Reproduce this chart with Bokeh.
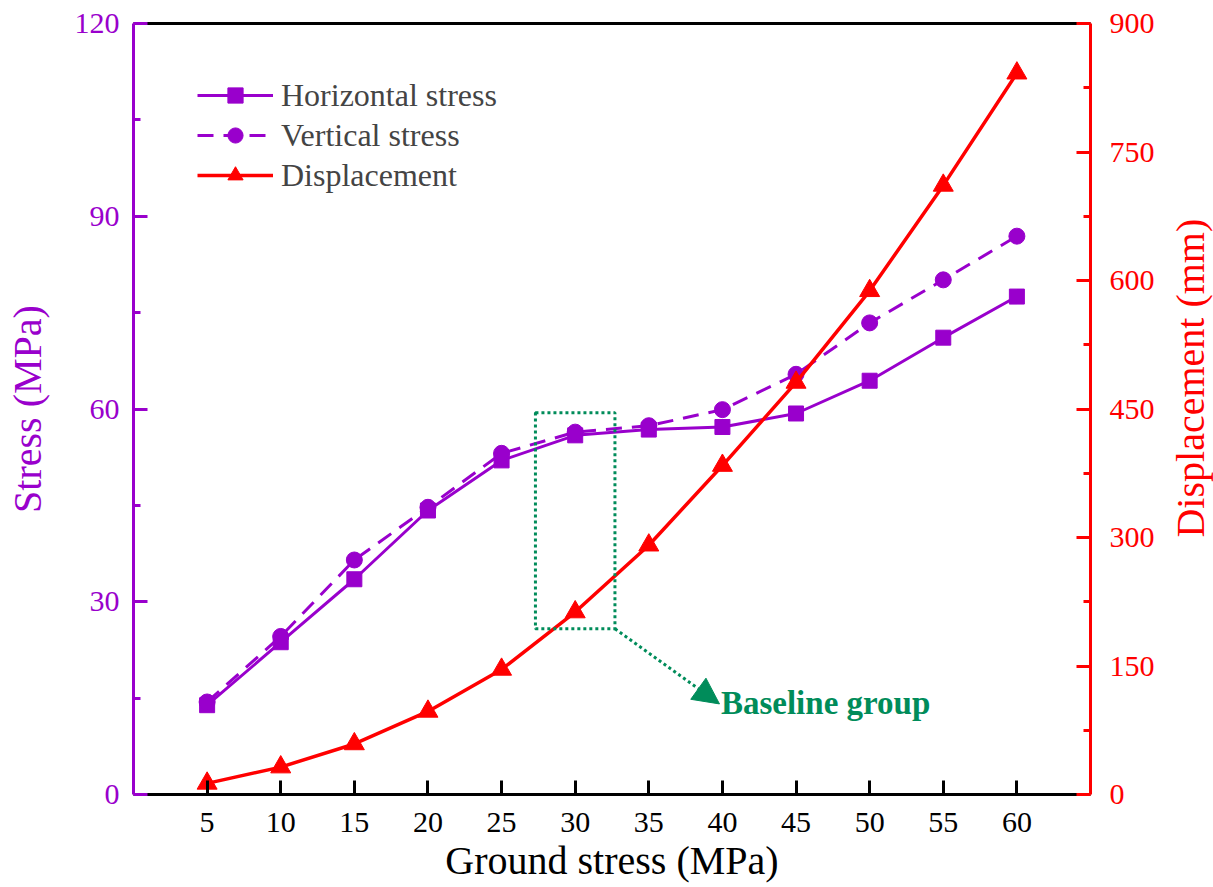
import math
from bokeh.plotting import figure
from bokeh.layouts import row
from bokeh.models import (Range1d, LinearAxis, FixedTicker, Legend, LegendItem,
                          BoxAnnotation, Arrow, NormalHead, Label)
from bokeh.embed import file_html
from bokeh.resources import INLINE

# ---- data ----
ground_stress = [5, 10, 15, 20, 25, 30, 35, 40, 45, 50, 55, 60]
horizontal_stress = [13.9, 23.7, 33.5, 44.2, 52.0, 55.9, 56.8, 57.2, 59.3, 64.4, 71.1, 77.5]
vertical_stress = [14.4, 24.6, 36.5, 44.7, 53.1, 56.4, 57.4, 59.9, 65.4, 73.4, 80.1, 86.9]
displacement = [13, 32, 59, 97, 146, 213, 291, 384, 481, 588, 711, 842]

x_ticks = [5, 10, 15, 20, 25, 30, 35, 40, 45, 50, 55, 60]
left_ticks = [0, 30, 60, 90, 120]
left_minor = [15, 45, 75, 105]
right_ticks = [0, 150, 300, 450, 600, 750, 900]
right_minor = [75, 225, 375, 525, 675, 825]

PURPLE = "#9900CC"
RED = "#FF0000"
GREEN = "#008C5A"
FONT = "Liberation Serif"

MAIN_W = 1165
p = figure(width=MAIN_W, height=887, output_backend="svg", toolbar_location=None,
           x_range=Range1d(0, 65), y_range=Range1d(0, 120),
           min_border_left=133, min_border_right=MAIN_W - 1090, min_border_top=23,
           min_border_bottom=93, x_axis_type=None, y_axis_type=None)
p.extra_y_ranges = {"disp": Range1d(0, 900)}
p.grid.visible = False
p.outline_line_color = None
p.background_fill_color = "white"
p.border_fill_color = "white"

def style_axis(ax, color, ticks, minor, label, title_size="40px"):
    ax.ticker = FixedTicker(ticks=ticks, minor_ticks=minor)
    ax.axis_line_color = color
    ax.axis_line_width = 3
    ax.major_tick_line_color = color
    ax.major_tick_line_width = 3
    ax.minor_tick_line_color = color
    ax.minor_tick_line_width = 3
    ax.major_tick_in = 14
    ax.major_tick_out = 0
    ax.minor_tick_in = 7
    ax.minor_tick_out = 0
    ax.major_label_text_color = color
    ax.major_label_text_font = FONT
    ax.major_label_text_font_size = "30px"
    ax.axis_label = label
    ax.axis_label_text_color = color
    ax.axis_label_text_font = FONT
    ax.axis_label_text_font_size = title_size
    ax.axis_label_text_font_style = "normal"

xaxis = LinearAxis()
style_axis(xaxis, "black", x_ticks, [], "Ground stress (MPa)")
xaxis.major_label_standoff = 18
xaxis.axis_label_standoff = 3
p.add_layout(xaxis, "below")

topaxis = LinearAxis(ticker=FixedTicker(ticks=[]), axis_line_color="black", axis_line_width=3,
                     major_tick_in=0, major_tick_out=0, minor_tick_in=0, minor_tick_out=0,
                     major_label_text_font_size="0px", major_label_standoff=0)
p.add_layout(topaxis, "above")

laxis = LinearAxis()
style_axis(laxis, PURPLE, left_ticks, left_minor, "Stress (MPa)")
laxis.major_label_standoff = 14
laxis.axis_label_standoff = 22
p.add_layout(laxis, "left")

raxis = LinearAxis(y_range_name="disp")
style_axis(raxis, RED, right_ticks, right_minor, None)
raxis.major_label_standoff = 19
p.add_layout(raxis, "right")

# ---- series ----
h_line = p.line(ground_stress, horizontal_stress, line_color=PURPLE, line_width=3)
h_pts = p.scatter(ground_stress, horizontal_stress, marker="square", size=15,
                  fill_color=PURPLE, line_color=PURPLE)
v_line = p.line(ground_stress, vertical_stress, line_color=PURPLE, line_width=3, line_dash="16 10")
v_pts = p.scatter(ground_stress, vertical_stress, marker="circle", size=16,
                  fill_color=PURPLE, line_color=PURPLE)
d_line = p.line(ground_stress, displacement, line_color=RED, line_width=3.5, y_range_name="disp")
d_pts = p.scatter(ground_stress, displacement, marker="triangle", size=20,
                  fill_color=RED, line_color=RED, y_range_name="disp")

legend = Legend(items=[
    LegendItem(label="Horizontal stress", renderers=[h_line, h_pts]),
    LegendItem(label="Vertical stress", renderers=[v_line, v_pts]),
    LegendItem(label="Displacement", renderers=[d_line, d_pts]),
], location=(64, 600))
legend.label_text_font = FONT
legend.label_text_font_size = "32px"
legend.glyph_width = 76
legend.glyph_height = 38
legend.label_height = 38
legend.label_standoff = 8
legend.spacing = 2
legend.padding = 0
legend.margin = 0
legend.border_line_color = None
legend.background_fill_alpha = 0
p.add_layout(legend)

# ---- annotations ----
box = BoxAnnotation(left=27.3, right=32.7, bottom=25.8, top=59.4,
                    fill_alpha=0, line_color=GREEN, line_alpha=1.0, line_width=3,
                    line_dash="3 3")
p.add_layout(box)
arrow = Arrow(end=NormalHead(size=26, fill_color=GREEN, line_color=GREEN),
              x_start=32.7, y_start=25.8, x_end=39.8, y_end=14.1,
              line_color=GREEN, line_width=3, line_dash="3 3")
p.add_layout(arrow)
lab = Label(x=39.9, y=14.3, text="Baseline group", text_color=GREEN, text_font=FONT,
            text_font_size="33px", text_font_style="bold", text_baseline="middle")
p.add_layout(lab)

# ---- right-hand title panel (reads bottom-to-top, like the reference) ----
side_w = 1213 - MAIN_W
side = figure(width=side_w, height=887, output_backend="svg", toolbar_location=None,
              x_range=Range1d(0, side_w), y_range=Range1d(0, 887),
              min_border=0, min_border_left=0, min_border_right=0,
              min_border_top=0, min_border_bottom=0,
              x_axis_type=None, y_axis_type=None)
side.grid.visible = False
side.outline_line_color = None
side.background_fill_color = "white"
side.border_fill_color = "white"
side.add_layout(Label(x=1190 - MAIN_W, y=887 - 408, text="Displacement (mm)", text_color=RED,
                      text_font=FONT, text_font_size="40px", angle=math.pi / 2,
                      text_align="center", text_baseline="middle"))

layout = row(p, side, spacing=0)
open("out.html", "w").write(file_html(layout, INLINE))
